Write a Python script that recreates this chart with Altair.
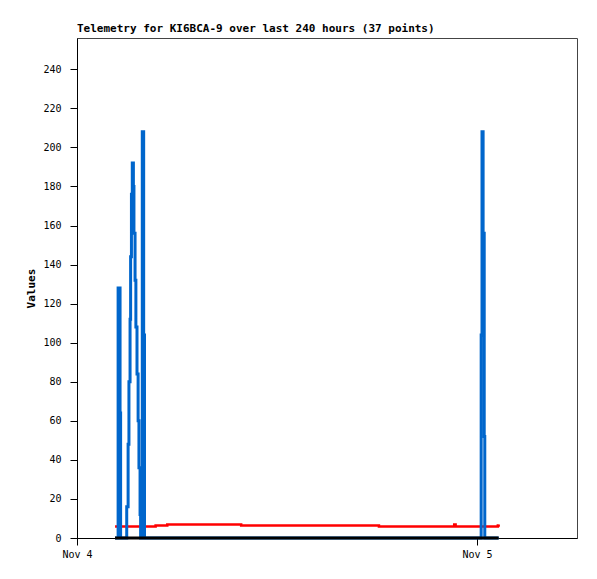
import altair as alt
import pandas as pd

times = [
    "2023-11-04T02:17:00", "2023-11-04T02:28:00", "2023-11-04T02:35:00", "2023-11-04T02:37:00",
    "2023-11-04T02:59:00", "2023-11-04T03:04:00", "2023-11-04T03:07:00", "2023-11-04T03:11:00",
    "2023-11-04T03:13:00", "2023-11-04T03:16:00", "2023-11-04T03:19:00", "2023-11-04T03:23:00",
    "2023-11-04T03:25:00", "2023-11-04T03:29:00", "2023-11-04T03:32:00", "2023-11-04T03:36:00",
    "2023-11-04T03:40:00", "2023-11-04T03:43:00", "2023-11-04T03:47:00", "2023-11-04T03:49:00",
    "2023-11-04T03:55:00", "2023-11-04T04:00:00", "2023-11-04T04:03:00", "2023-11-04T04:43:00",
    "2023-11-04T05:25:00", "2023-11-04T09:51:00", "2023-11-04T18:07:00", "2023-11-04T22:38:00",
    "2023-11-04T22:43:00", "2023-11-05T00:15:00", "2023-11-05T00:18:00", "2023-11-05T00:22:00",
    "2023-11-05T00:26:00", "2023-11-05T00:28:00", "2023-11-05T01:11:00", "2023-11-05T01:15:00",
    "2023-11-05T01:18:00",
]
blue = [0, 128, 64, 0, 16, 48, 80, 112, 144, 176, 192, 180, 156, 132, 108, 84, 60, 36, 12, 0,
        208, 104, 0, 0, 0, 0, 0, 0, 0, 104, 208, 156, 52, 0, 0, 0, 0]
red = [5.9] * 23 + [6.4, 6.9, 6.4, 5.9, 6.9] + [5.9] * 7 + [6.4, 6.9]
black = [0] * 37

title_text = "Telemetry for KI6BCA-9 over last 240 hours (37 points)"
y_ticks = [0, 20, 40, 60, 80, 100, 120, 140, 160, 180, 200, 220, 240]
x_ticks = [alt.DateTime(year=2023, month=11, date=4), alt.DateTime(year=2023, month=11, date=5)]
x_domain = [alt.DateTime(year=2023, month=11, date=4, hours=0),
            alt.DateTime(year=2023, month=11, date=5, hours=6)]

df = pd.DataFrame({"time": times, "blue": blue, "red": red, "black": black})

FONT = "DejaVu Sans Mono"

x_enc = alt.X(
    "time:T",
    scale=alt.Scale(domain=x_domain),
    axis=alt.Axis(values=x_ticks, format="%b %-d", title=None, grid=False,
                  tickSize=7, labelPadding=4, labelFlush=False),
)

y_axis = alt.Axis(values=y_ticks, title="Values", grid=False, tickSize=7,
                  labelPadding=9, titlePadding=6)
y_scale = alt.Scale(domain=[0, 256], nice=False)

def y_enc(field):
    return alt.Y(field + ":Q", scale=y_scale, axis=y_axis)

base = alt.Chart(df)
red_line = base.mark_line(interpolate="step-after", color="#ff0000", strokeWidth=2.5).encode(
    x=x_enc, y=y_enc("red"))
blue_line = base.mark_line(interpolate="step-after", color="#0066cc", strokeWidth=3).encode(
    x=x_enc, y=y_enc("blue"))
black_line = base.mark_line(interpolate="step-after", color="#000000", strokeWidth=3).encode(
    x=x_enc, y=y_enc("black"))

chart = alt.layer(red_line, blue_line, black_line).properties(
    width=500, height=500,
    title=alt.TitleParams(title_text, anchor="start", frame="group", font=FONT,
                          fontSize=11, fontWeight="bold", color="#000000", offset=4),
    autosize=alt.AutoSizeParams(type="none"),
    padding={"left": 69, "top": 30, "right": 12, "bottom": 33},
).configure_view(
    stroke="#444444", strokeWidth=1
).configure_axis(
    domainColor="#000000", tickColor="#000000", labelColor="#000000",
    labelFont=FONT, labelFontSize=10, titleFont=FONT, titleFontSize=11,
    titleFontWeight="bold", titleColor="#000000", domainWidth=1, tickWidth=1,
)

chart.save("out.html", embed_options={"renderer": "svg", "actions": False})
